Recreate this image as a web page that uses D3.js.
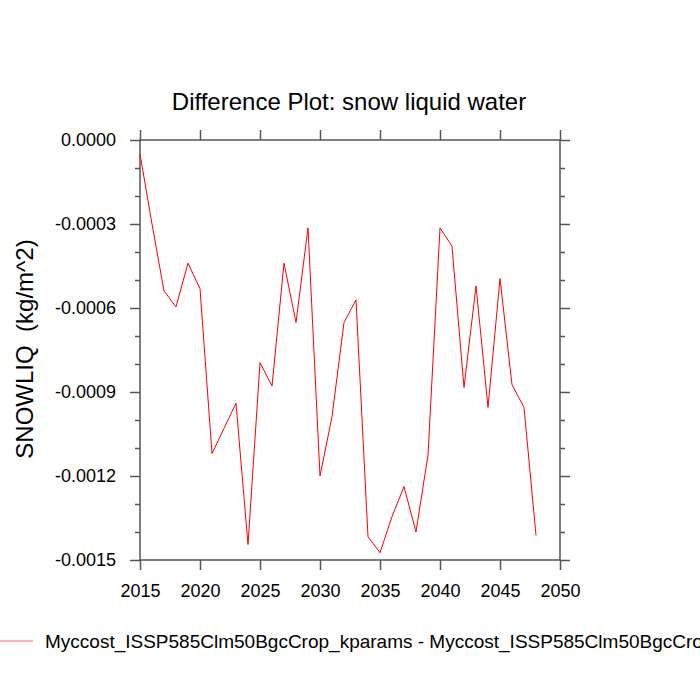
<!DOCTYPE html>
<head>
	<meta charset="utf-8">
	<script src="https://d3js.org/d3.v7.min.js"></script>
	<style>
	    body { margin: 0; background: white; overflow: hidden; }
	    text { font-family: "Liberation Sans", Arial, sans-serif; fill: black; }
	</style>
</head>
<body>
    <script>
        // data
        var years = [2015, 2016, 2017, 2018, 2019, 2020, 2021, 2022, 2023, 2024,
                     2025, 2026, 2027, 2028, 2029, 2030, 2031, 2032, 2033, 2034,
                     2035, 2036, 2037, 2038, 2039, 2040, 2041, 2042, 2043, 2044,
                     2045, 2046, 2047, 2048];
        var snowliq = [-0.00005, -0.00030, -0.000539, -0.000596, -0.00044, -0.000531, -0.00112, -0.00103, -0.00094, -0.001445,
                       -0.000795, -0.000879, -0.00044, -0.000652, -0.000314, -0.0012, -0.000988, -0.000652, -0.000571, -0.001417,
                       -0.001474, -0.001345, -0.001238, -0.0014, -0.001125, -0.000314, -0.000379, -0.000884, -0.000521, -0.000955,
                       -0.000495, -0.000874, -0.000955, -0.001412];
        var xTicks = [2015, 2020, 2025, 2030, 2035, 2040, 2045, 2050];
        var yTicks = [0, -0.0003, -0.0006, -0.0009, -0.0012, -0.0015];
        var yMinor = [-0.0001, -0.0002, -0.0004, -0.0005, -0.0007, -0.0008,
                      -0.0010, -0.0011, -0.0013, -0.0014];
        var seriesName = "Myccost_ISSP585Clm50BgcCrop_kparams - Myccost_ISSP585Clm50BgcCrop";

        var w = 700, h = 700;
        var plotL = 140, plotR = 560, plotT = 140, plotB = 560;
        var axisColor = "#555";

        var svg = d3.select("body").append("svg")
            .attr("width", w)
            .attr("height", h);

        var xScale = d3.scaleLinear().domain([2015, 2050]).range([plotL, plotR]);
        var yScale = d3.scaleLinear().domain([-0.0015, 0]).range([plotB, plotT]);

        // frame
        svg.append("rect")
            .attr("x", plotL).attr("y", plotT)
            .attr("width", plotR - plotL).attr("height", plotB - plotT)
            .attr("fill", "none")
            .attr("stroke", axisColor)
            .attr("stroke-width", 1.5);

        // outward ticks on all four sides
        var fmt = function(d) { return d3.format(".4f")(d).replace("−", "-"); };

        var gb = svg.append("g").attr("transform", "translate(0," + plotB + ")")
            .call(d3.axisBottom(xScale).tickValues(xTicks).tickSize(10).tickPadding(14)
                .tickFormat(d3.format("d")));
        var gt = svg.append("g").attr("transform", "translate(0," + plotT + ")")
            .call(d3.axisTop(xScale).tickValues(xTicks).tickSize(10).tickFormat(""));
        var gl = svg.append("g").attr("transform", "translate(" + plotL + ",0)")
            .call(d3.axisLeft(yScale).tickValues(yTicks).tickSize(10).tickPadding(14)
                .tickFormat(fmt));
        var gr = svg.append("g").attr("transform", "translate(" + plotR + ",0)")
            .call(d3.axisRight(yScale).tickValues(yTicks).tickSize(10).tickFormat(""));
        var glm = svg.append("g").attr("transform", "translate(" + plotL + ",0)")
            .call(d3.axisLeft(yScale).tickValues(yMinor).tickSize(5).tickFormat(""));
        var grm = svg.append("g").attr("transform", "translate(" + plotR + ",0)")
            .call(d3.axisRight(yScale).tickValues(yMinor).tickSize(5).tickFormat(""));

        [gb, gt, gl, gr, glm, grm].forEach(function(g) {
            g.select(".domain").remove();
            g.selectAll("line").attr("stroke", axisColor).attr("stroke-width", 1.5);
            g.selectAll("text")
                .style("font-family", "'Liberation Sans', Arial, sans-serif")
                .style("font-size", "18px")
                .attr("fill", "black");
        });

        // series line
        var line = d3.line()
            .x(function(d, i) { return xScale(years[i]); })
            .y(function(d) { return yScale(d); });

        svg.append("path")
            .datum(snowliq)
            .attr("d", line)
            .attr("fill", "none")
            .attr("stroke", "red")
            .attr("stroke-width", 1);

        // title
        svg.append("text")
            .attr("x", 349)
            .attr("y", 110)
            .attr("text-anchor", "middle")
            .style("font-size", "24px")
            .text("Difference Plot: snow liquid water");

        // y axis label
        svg.append("text")
            .attr("transform", "translate(33,349) rotate(-90)")
            .attr("text-anchor", "middle")
            .style("font-size", "24px")
            .style("white-space", "pre")
            .text("SNOWLIQ  (kg/m^2)");

        // legend
        svg.append("line")
            .attr("x1", 0).attr("x2", 33)
            .attr("y1", 641).attr("y2", 641)
            .attr("stroke", "red")
            .attr("stroke-opacity", 0.6)
            .attr("stroke-width", 1);

        svg.append("text")
            .attr("x", 45)
            .attr("y", 648)
            .style("font-size", "19px")
            .text(seriesName);
    </script>
</body>
